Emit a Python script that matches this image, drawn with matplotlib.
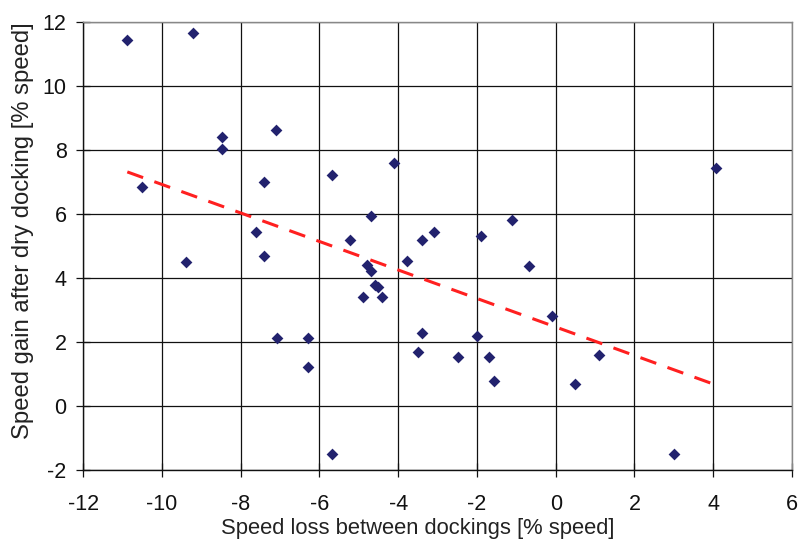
import matplotlib
matplotlib.use("Agg")
import matplotlib.pyplot as plt
import numpy as np

plt.rcParams["font.family"] = ["Liberation Sans", "DejaVu Sans"]
plt.rcParams["axes.unicode_minus"] = False

# speed loss between dockings [% speed]
speed_loss = [
    -10.88, -9.21, -8.48, -8.48, -7.10, -10.50, -7.40, -5.69, -4.10, -7.61,
    -4.69, -5.22, -3.40, -3.08, -7.40, -1.90, -1.10, 4.08, -9.39, -4.79,
    -4.69, -4.59, -4.51, -4.90, -4.40, -3.78, -3.40, -3.50, -7.09, -6.29,
    -6.29, -5.69, -0.68, -0.09, -2.00, -2.49, -1.69, -1.58, 1.09, 0.50, 3.01,
]
# speed gain after dry docking [% speed]
speed_gain = [
    11.41, 11.63, 8.41, 8.01, 8.63, 6.82, 6.99, 7.21, 7.60, 5.42,
    5.92, 5.19, 5.19, 5.42, 4.68, 5.32, 5.80, 7.42, 4.50, 4.39,
    4.20, 3.79, 3.70, 3.40, 3.40, 4.52, 2.29, 1.68, 2.11, 2.11,
    1.21, -1.49, 4.38, 2.80, 2.19, 1.52, 1.52, 0.79, 1.59, 0.70, -1.49,
]

x = np.array(speed_loss)
y = np.array(speed_gain)

# linear trend line (least squares), drawn over the data range
slope, intercept = np.polyfit(x, y, 1)
tx = np.array([x.min(), x.max()])
ty = slope * tx + intercept

fig = plt.figure(figsize=(8.0, 5.39), dpi=100)
ax = fig.add_axes([0.104, 0.128, 0.886, 0.832])

ax.scatter(x, y, marker="D", s=36, color="#22226e", zorder=3, linewidths=0)
ax.plot(tx, ty, color="#ff2020", lw=2.2, linestyle=(0, (5.5, 3.9)), zorder=4)

ax.set_xlim(-12, 6)
ax.set_ylim(-2, 12)
ax.set_xticks(np.arange(-12, 7, 2))
ax.set_yticks(np.arange(-2, 13, 2))
ax.grid(True, color="#111111", lw=0.9)
ax.set_axisbelow(True)

for side in ("top", "right"):
    ax.spines[side].set_color("#888888")
for side in ("left", "bottom"):
    ax.spines[side].set_color("#111111")
for sp in ax.spines.values():
    sp.set_linewidth(1.0)

ax.tick_params(direction="inout", length=10, width=0.9, labelsize=15.5,
               colors="#111111")
ax.tick_params(axis="x", pad=12)
ax.tick_params(axis="y", pad=7)
ax.set_xlabel("Speed loss between dockings [% speed]", fontsize=15.8,
              color="#222222")
ax.set_ylabel("Speed gain after dry docking [% speed]", fontsize=17.2,
              color="#222222")
ax.xaxis.set_label_coords(0.4725, -0.106)
ax.yaxis.set_label_coords(-0.069, 0.533)

fig.savefig("out.png", dpi=100)
